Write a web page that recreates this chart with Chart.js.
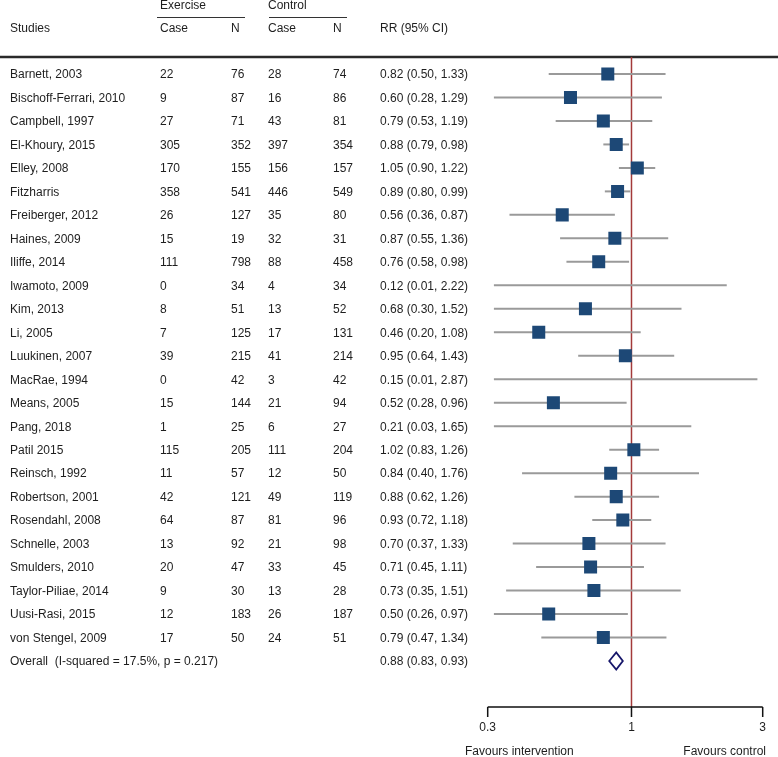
<!DOCTYPE html>
<html>
<head>
<meta charset="utf-8">
<title>Forest plot: exercise vs control</title>
<script src="https://cdn.jsdelivr.net/npm/chart.js@4/dist/chart.umd.min.js"></script>
<style>
  html, body { margin: 0; padding: 0; background: #fff; }
  #forest { display: block; }
</style>
</head>
<body>
<canvas id="forest" width="778" height="757"></canvas>
<script>
// Study data
const studies = [
  'Barnett, 2003', 'Bischoff-Ferrari, 2010', 'Campbell, 1997', 'El-Khoury, 2015',
  'Elley, 2008', 'Fitzharris', 'Freiberger, 2012', 'Haines, 2009', 'Iliffe, 2014',
  'Iwamoto, 2009', 'Kim, 2013', 'Li, 2005', 'Luukinen, 2007', 'MacRae, 1994',
  'Means, 2005', 'Pang, 2018', 'Patil 2015', 'Reinsch, 1992', 'Robertson, 2001',
  'Rosendahl, 2008', 'Schnelle, 2003', 'Smulders, 2010', 'Taylor-Piliae, 2014',
  'Uusi-Rasi, 2015', 'von Stengel, 2009',
];
const exerciseCase = [22, 9, 27, 305, 170, 358, 26, 15, 111, 0, 8, 7, 39, 0, 15, 1, 115, 11, 42, 64, 13, 20, 9, 12, 17];
const exerciseN = [76, 87, 71, 352, 155, 541, 127, 19, 798, 34, 51, 125, 215, 42, 144, 25, 205, 57, 121, 87, 92, 47, 30, 183, 50];
const controlCase = [28, 16, 43, 397, 156, 446, 35, 32, 88, 4, 13, 17, 41, 3, 21, 6, 111, 12, 49, 81, 21, 33, 13, 26, 24];
const controlN = [74, 86, 81, 354, 157, 549, 80, 31, 458, 34, 52, 131, 214, 42, 94, 27, 204, 50, 119, 96, 98, 45, 28, 187, 51];
const rr = [0.82, 0.60, 0.79, 0.88, 1.05, 0.89, 0.56, 0.87, 0.76, 0.12, 0.68, 0.46, 0.95, 0.15, 0.52, 0.21, 1.02, 0.84, 0.88, 0.93, 0.70, 0.71, 0.73, 0.50, 0.79];
const ciLow = [0.50, 0.28, 0.53, 0.79, 0.90, 0.80, 0.36, 0.55, 0.58, 0.01, 0.30, 0.20, 0.64, 0.01, 0.28, 0.03, 0.83, 0.40, 0.62, 0.72, 0.37, 0.45, 0.35, 0.26, 0.47];
const ciHigh = [1.33, 1.29, 1.19, 0.98, 1.22, 0.99, 0.87, 1.36, 0.98, 2.22, 1.52, 1.08, 1.43, 2.87, 0.96, 1.65, 1.26, 1.76, 1.26, 1.18, 1.33, 1.11, 1.51, 0.97, 1.34];

const overallLabel = 'Overall  (I-squared = 17.5%, p = 0.217)';
const overallRR = 0.88;
const overallLow = 0.83;
const overallHigh = 0.93;

const xTicks = [0.3, 1, 3];
const xTickLabels = ['0.3', '1', '3'];
const nullValue = 1;
const ciClipLow = 0.316; // CI lines are cut where the plot region starts

// Styles
const FONT = '12px "Liberation Sans", Arial, Helvetica, sans-serif';
const TEXT_COLOR = '#1e1e1e';
const SQUARE_COLOR = '#1d4876';
const CI_COLOR = '#9a9a9a';
const NULL_COLOR = '#a33a3a';
const DIAMOND_COLOR = '#16166a';

const fmt = (v) => v.toFixed(2);
const rrText = rr.map((v, i) => `${fmt(v)} (${fmt(ciLow[i])}, ${fmt(ciHigh[i])})`);
const overallRow = studies.length;

// Draws the table text, CI lines, null line, diamond and axis
const forestPlugin = {
  id: 'forest',
  beforeDatasetsDraw(chart) {
    const { ctx, scales: { x, y } } = chart;
    ctx.save();

    // thick rule under the header
    ctx.strokeStyle = '#2a2a2a';
    ctx.lineWidth = 2.5;
    ctx.beginPath();
    ctx.moveTo(0, y.top);
    ctx.lineTo(chart.width, y.top);
    ctx.stroke();

    // null line
    const x1 = x.getPixelForValue(nullValue);
    ctx.strokeStyle = NULL_COLOR;
    ctx.lineWidth = 1.5;
    ctx.beginPath();
    ctx.moveTo(x1, y.top);
    ctx.lineTo(x1, y.bottom);
    ctx.stroke();

    // confidence intervals
    ctx.strokeStyle = CI_COLOR;
    ctx.lineWidth = 2;
    studies.forEach((s, i) => {
      const py = y.getPixelForValue(i);
      const lo = x.getPixelForValue(Math.max(ciLow[i], ciClipLow));
      const hi = x.getPixelForValue(Math.min(ciHigh[i], xTicks[xTicks.length - 1]));
      ctx.beginPath();
      ctx.moveTo(lo, py);
      ctx.lineTo(hi, py);
      ctx.stroke();
    });
    ctx.restore();
  },
  afterDatasetsDraw(chart) {
    const { ctx, scales: { x, y } } = chart;
    ctx.save();
    ctx.font = FONT;
    ctx.fillStyle = TEXT_COLOR;
    ctx.textBaseline = 'middle';
    ctx.textAlign = 'left';

    // header
    ctx.fillText('Exercise', 160, 6);
    ctx.fillText('Control', 268, 6);
    ctx.fillText('Studies', 10, 29);
    ctx.fillText('Case', 160, 29);
    ctx.fillText('N', 231, 29);
    ctx.fillText('Case', 268, 29);
    ctx.fillText('N', 333, 29);
    ctx.fillText('RR (95% CI)', 380, 29);
    ctx.strokeStyle = '#333';
    ctx.lineWidth = 1;
    ctx.beginPath();
    ctx.moveTo(157, 17.5); ctx.lineTo(245, 17.5);
    ctx.moveTo(269, 17.5); ctx.lineTo(347, 17.5);
    ctx.stroke();

    // study rows
    studies.forEach((s, i) => {
      const py = y.getPixelForValue(i) + 1;
      ctx.fillText(s, 10, py);
      ctx.fillText(String(exerciseCase[i]), 160, py);
      ctx.fillText(String(exerciseN[i]), 231, py);
      ctx.fillText(String(controlCase[i]), 268, py);
      ctx.fillText(String(controlN[i]), 333, py);
      ctx.fillText(rrText[i], 380, py);
    });

    // overall row
    const oy = y.getPixelForValue(overallRow);
    ctx.fillText(overallLabel, 10, oy + 1);
    ctx.fillText(`${fmt(overallRR)} (${fmt(overallLow)}, ${fmt(overallHigh)})`, 380, oy + 1);

    // pooled estimate diamond
    const dl = x.getPixelForValue(overallLow);
    const dc = x.getPixelForValue(overallRR);
    const dr = x.getPixelForValue(overallHigh);
    ctx.fillStyle = '#fff';
    ctx.strokeStyle = DIAMOND_COLOR;
    ctx.lineWidth = 1.8;
    ctx.beginPath();
    ctx.moveTo(dl, oy);
    ctx.lineTo(dc, oy - 8.5);
    ctx.lineTo(dr, oy);
    ctx.lineTo(dc, oy + 8.5);
    ctx.closePath();
    ctx.fill();
    ctx.stroke();

    // x axis
    const ax = y.bottom;
    ctx.strokeStyle = '#111';
    ctx.lineWidth = 1.5;
    ctx.beginPath();
    ctx.moveTo(x.getPixelForValue(xTicks[0]), ax);
    ctx.lineTo(x.getPixelForValue(xTicks[xTicks.length - 1]), ax);
    xTicks.forEach((t) => {
      const px = x.getPixelForValue(t);
      ctx.moveTo(px, ax);
      ctx.lineTo(px, ax + 10);
    });
    ctx.stroke();

    ctx.fillStyle = TEXT_COLOR;
    ctx.textAlign = 'center';
    xTicks.forEach((t, i) => {
      ctx.fillText(xTickLabels[i], x.getPixelForValue(t), ax + 21);
    });
    ctx.textAlign = 'left';
    ctx.fillText('Favours intervention', 465, ax + 45);
    ctx.textAlign = 'right';
    ctx.fillText('Favours control', 766, ax + 45);
    ctx.restore();
  },
};

new Chart(document.getElementById('forest'), {
  type: 'scatter',
  data: {
    datasets: [
      {
        label: 'RR',
        data: rr.map((v, i) => ({ x: v, y: i })),
        pointStyle: 'rect',
        pointRadius: 9.2,
        pointHoverRadius: 9.2,
        backgroundColor: SQUARE_COLOR,
        borderColor: SQUARE_COLOR,
        borderWidth: 0,
      },
    ],
  },
  options: {
    responsive: false,
    animation: false,
    events: [],
    layout: { padding: { left: 487.7, right: 15.3, top: 57, bottom: 50 } },
    plugins: { legend: { display: false }, tooltip: { enabled: false } },
    scales: {
      x: { type: 'logarithmic', min: 0.3, max: 3, display: false },
      y: { type: 'linear', min: -0.724, max: 26.96, reverse: true, display: false },
    },
  },
  plugins: [forestPlugin],
});
</script>
</body>
</html>
